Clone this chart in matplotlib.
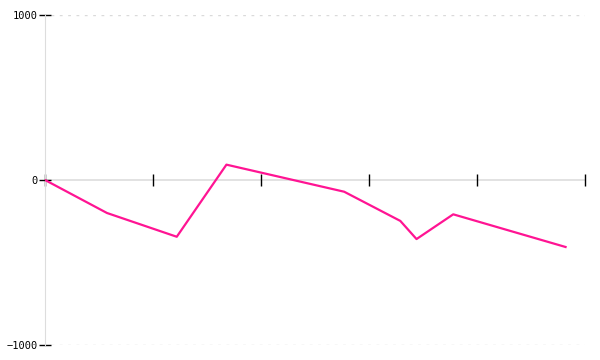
import matplotlib
matplotlib.use("Agg")
import matplotlib.pyplot as plt

x_values = [0.0, 0.574, 1.22, 1.68, 2.77, 3.29, 3.44, 3.78, 4.82]
y_values = [0, -200, -344, 93, -71, -248, -358, -208, -406]
x_ticks = [0, 1, 2, 3, 4, 5]
y_ticks = [-1000, 0, 1000]
y_tick_labels = ["\u22121000", "0", "1000"]

fig = plt.figure(figsize=(6, 3.6), dpi=100)
ax = fig.add_axes([45/600, 15/360, 540/600, 330/360])
ax.set_xlim(0, 5)
ax.set_ylim(-1000, 1000)

for v in (1000, -1000):
    ax.plot([0.06, 5], [v, v], color="#dadada", lw=1, dashes=(2, 4), zorder=1)
ax.plot([0, 5], [0, 0], color="#dddddd", lw=1.2, zorder=1, clip_on=False)

ax.plot(x_values, y_values, color="#ff1493", lw=1.6, zorder=3)

for s in ("top", "right"):
    ax.spines[s].set_visible(False)
ax.spines["left"].set_color("#dddddd")
ax.spines["bottom"].set_position(("data", 0))
ax.spines["bottom"].set_visible(False)

ax.set_xticks(x_ticks)
ax.set_xticklabels([])
ax.tick_params(axis="x", direction="inout", length=9, width=1, color="black")
ax.set_yticks(y_ticks)
ax.set_yticklabels(y_tick_labels, family="DejaVu Sans Mono", fontsize=7.5)
ax.tick_params(axis="y", direction="inout", length=8, width=1, color="black", pad=1)

fig.savefig("out.png", dpi=100)
